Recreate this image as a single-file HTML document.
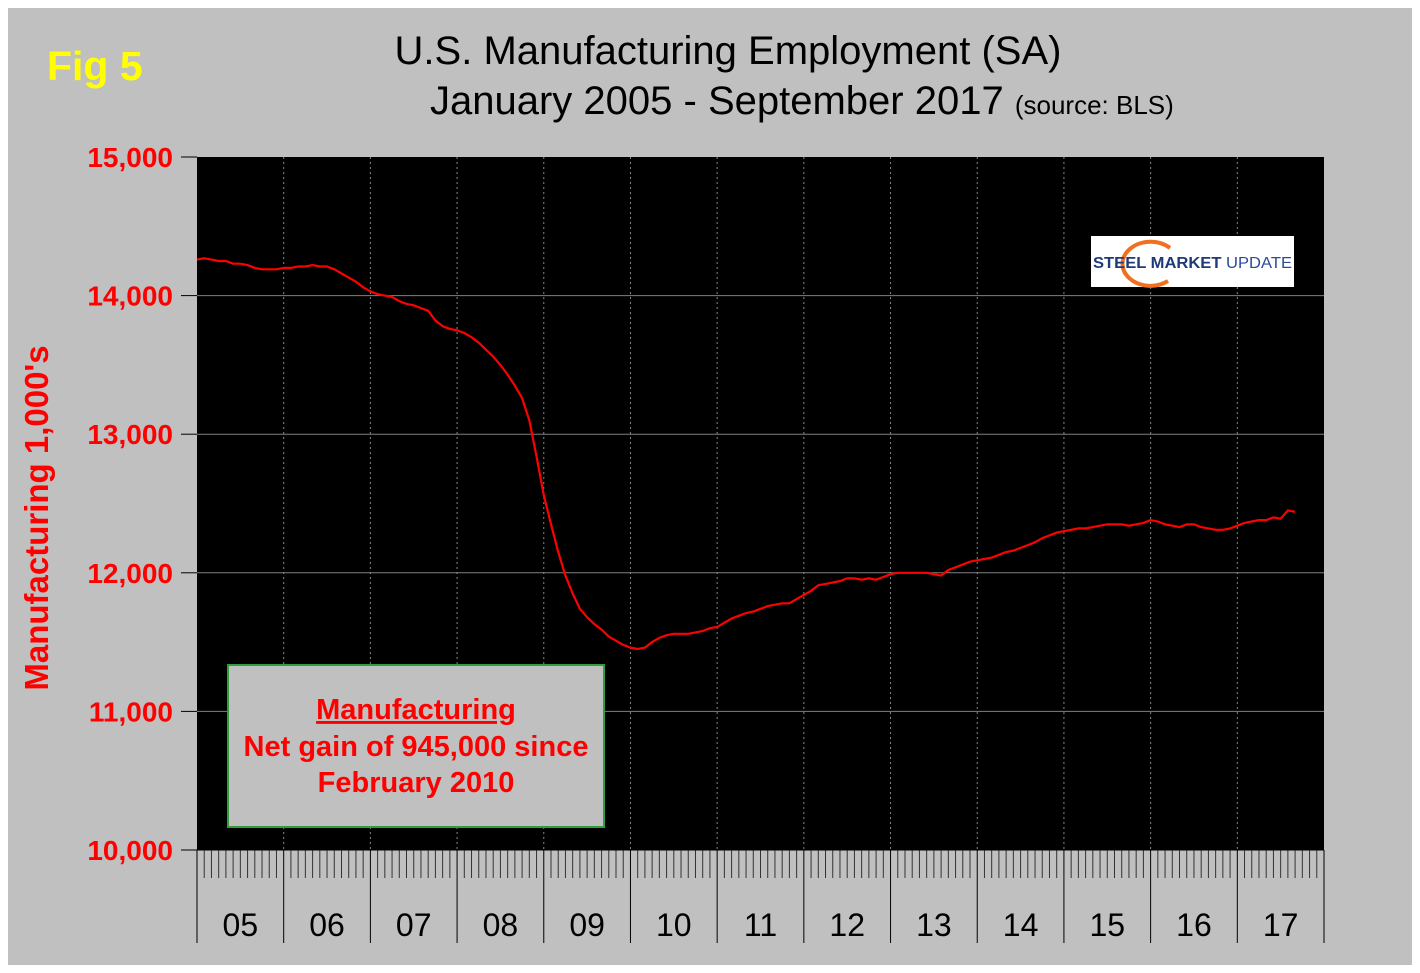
<!DOCTYPE html>
<html><head><meta charset="utf-8"><style>
body{margin:0;background:#fff;}
svg{display:block;font-family:"Liberation Sans",Arial,sans-serif;}
</style></head><body>
<svg width="1420" height="973" xmlns="http://www.w3.org/2000/svg" id="chart">
<rect x="8" y="8" width="1404" height="957" fill="#c0c0c0"/>
<rect x="197" y="157" width="1127" height="693" fill="#000"/>
<text x="47" y="80" font-size="41" font-weight="bold" fill="#ffff00">Fig 5</text>
<text x="728" y="64" font-size="40" text-anchor="middle" fill="#000">U.S. Manufacturing Employment (SA)</text>
<text x="430" y="114" font-size="40" fill="#000">January 2005 - September 2017 <tspan font-size="26">(source: BLS)</tspan></text>
<text transform="translate(48,518) rotate(-90)" font-size="33" font-weight="bold" fill="#ff0000" text-anchor="middle">Manufacturing  1,000's</text>
<g id="grid"></g><g id="axes"></g>
<polyline id="line" fill="none" stroke="#ff0000" stroke-width="2.2"/>
<g>
<rect x="1091" y="236" width="203" height="51" fill="#fff"/>
<path d="M1170 248 A28 22 0 1 0 1168 281" fill="none" stroke="#f07020" stroke-width="4"/>
<text x="1093" y="268" font-size="16" font-weight="bold" fill="#1e3a78" textLength="199" lengthAdjust="spacingAndGlyphs">STEEL MARKET <tspan font-weight="normal" fill="#2a4a9a">UPDATE</tspan></text>
</g>
<g>
<rect x="228" y="665" width="376" height="162" fill="#c0c0c0" stroke="#2e9e3e" stroke-width="2"/>
<text x="416" y="719" font-size="29" font-weight="bold" fill="#ff0000" text-anchor="middle" text-decoration="underline">Manufacturing</text>
<text x="416" y="756" font-size="29" font-weight="bold" fill="#ff0000" text-anchor="middle">Net gain of 945,000 since</text>
<text x="416" y="792" font-size="29" font-weight="bold" fill="#ff0000" text-anchor="middle">February 2010</text>
</g>
</svg>
<script>
const yTicks=[10000,11000,12000,13000,14000,15000];
const yTickLabels=["10,000","11,000","12,000","13,000","14,000","15,000"];
const years=["05","06","07","08","09","10","11","12","13","14","15","16","17"];
const values=[
14260,14270,14260,14250,14250,14230,14230,14220,14200,14190,14190,14190,
14200,14200,14210,14210,14220,14210,14210,14190,14160,14130,14100,14060,
14030,14010,14000,13990,13960,13940,13930,13910,13890,13820,13780,13760,
13750,13730,13700,13660,13610,13560,13500,13430,13350,13260,13100,12840,
12560,12350,12150,11980,11850,11740,11680,11630,11590,11540,11510,11480,
11460,11450,11460,11500,11530,11550,11560,11560,11560,11570,11580,11600,
11610,11640,11670,11690,11710,11720,11740,11760,11770,11780,11780,11810,
11840,11870,11910,11920,11930,11940,11960,11960,11950,11960,11950,11970,
11990,12000,12000,12000,12000,12000,11990,11980,12020,12040,12060,12080,
12090,12100,12110,12130,12150,12160,12180,12200,12220,12250,12270,12290,
12300,12310,12320,12320,12330,12340,12350,12350,12350,12340,12350,12360,
12380,12370,12350,12340,12330,12350,12350,12330,12320,12310,12310,12320,
12340,12360,12370,12380,12380,12400,12390,12450,12440];
const X0=197,X1=1324,Y0=850,Y1=157;
const monthW=(X1-X0)/(years.length*12);
const x=i=>X0+i*monthW;
const y=v=>Y0-(v-10000)/5000*(Y0-Y1);
const NS="http://www.w3.org/2000/svg";
const grid=document.getElementById('grid'),axes=document.getElementById('axes');
function mk(tag,attrs,parent){const e=document.createElementNS(NS,tag);for(const k in attrs)e.setAttribute(k,attrs[k]);parent.appendChild(e);return e;}
yTicks.forEach((t,i)=>{
 if(t>10000&&t<15000){const g=mk('line',{x1:X0,x2:X1,y1:y(t),y2:y(t),stroke:'#808080','stroke-width':1},grid);
 
 }
 const tk=mk('line',{x1:X0-16,x2:X0,y1:y(t),y2:y(t),stroke:'#000','stroke-width':1},axes);
 
 
 const tx=mk('text',{x:X0-24,y:y(t)+10,'font-size':28,'font-weight':'bold',fill:'#ff0000','text-anchor':'end'},axes);
 tx.textContent=yTickLabels[i];
 
 
});
years.forEach((yr,i)=>{
 const xs=x(i*12);
 if(i>0){const g=mk('line',{x1:xs,x2:xs,y1:Y1,y2:Y0,stroke:'#888','stroke-width':1,'stroke-dasharray':'2,3'},grid);
 
 }
 const yl=mk('line',{x1:xs,x2:xs,y1:Y0,y2:943,stroke:'#000','stroke-width':1},axes);
 
 
 for(let m=1;m<12;m++){const mt=mk('line',{x1:x(i*12+m),x2:x(i*12+m),y1:Y0,y2:878,stroke:'#333','stroke-width':1},axes);
 
 }
 const tx=mk('text',{x:x(i*12+6),y:936,'font-size':32,fill:'#000','text-anchor':'middle'},axes);
 tx.textContent=yr;
 
 
});
const e1=mk('line',{x1:X1,x2:X1,y1:Y0,y2:943,stroke:'#000','stroke-width':1},axes);


const ax=mk('line',{x1:X0-16,x2:X1,y1:Y0,y2:Y0,stroke:'#000','stroke-width':1},axes);


document.getElementById('line').setAttribute('points',values.map((v,i)=>x(i).toFixed(1)+','+y(v).toFixed(1)).join(' '));
</script>
</body></html>
